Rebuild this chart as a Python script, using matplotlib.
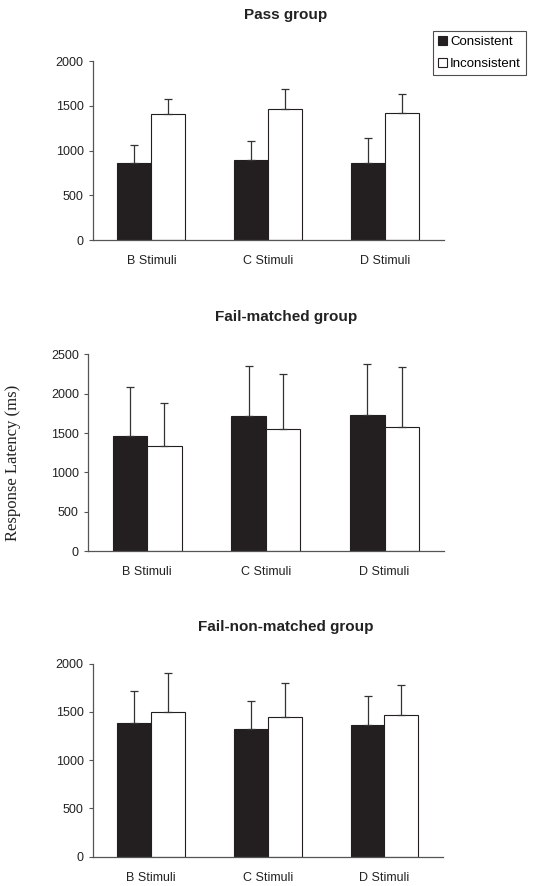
import matplotlib
matplotlib.use('Agg')
import matplotlib.pyplot as plt
import numpy as np

plt.rcParams['font.family'] = ['Liberation Sans', 'DejaVu Sans']

# Data
stimuli = ['B Stimuli', 'C Stimuli', 'D Stimuli']
series_names = ['Consistent', 'Inconsistent']

pass_cons = [865, 894, 865]
pass_cons_top = [1061, 1110, 1139]
pass_incons = [1410, 1469, 1417]
pass_incons_top = [1577, 1692, 1629]

fm_cons = [1462, 1720, 1729]
fm_cons_top = [2089, 2352, 2377]
fm_incons = [1339, 1555, 1581]
fm_incons_top = [1886, 2254, 2335]

fnm_cons = [1390, 1324, 1369]
fnm_cons_top = [1721, 1614, 1666]
fnm_incons = [1497, 1452, 1466]
fnm_incons_top = [1900, 1800, 1776]

titles = ['Pass group', 'Fail-matched group', 'Fail-non-matched group']
ymaxes = [2000, 2500, 2000]

fig = plt.figure(figsize=(5.46, 8.86), dpi=100)

# axes boxes: left, bottom, width, height
boxes = [[0.170, 0.729, 0.643, 0.202],
         [0.161, 0.378, 0.652, 0.222],
         [0.170, 0.033, 0.641, 0.218]]
title_y = [0.983, 0.642, 0.292]

panels = [(pass_cons, pass_cons_top, pass_incons, pass_incons_top),
          (fm_cons, fm_cons_top, fm_incons, fm_incons_top),
          (fnm_cons, fnm_cons_top, fnm_incons, fnm_incons_top)]

w = 0.29
x = np.arange(len(stimuli))
for i, (cons, cons_top, inc, inc_top) in enumerate(panels):
    ax = fig.add_axes(boxes[i])
    cons = np.array(cons)
    inc = np.array(inc)
    b1 = ax.bar(x - w / 2, cons, w, color='#231f20', edgecolor='#231f20', linewidth=0.8,
                yerr=[np.zeros(3), np.array(cons_top) - cons],
                error_kw=dict(ecolor='#333333', elinewidth=0.9, capsize=3, capthick=0.9),
                label=series_names[0], zorder=2)
    b2 = ax.bar(x + w / 2, inc, w, color='white', edgecolor='#231f20', linewidth=0.8,
                yerr=[np.zeros(3), np.array(inc_top) - inc],
                error_kw=dict(ecolor='#333333', elinewidth=0.9, capsize=3, capthick=0.9),
                label=series_names[1], zorder=2)
    ax.set_xlim(-0.5, 2.5)
    ax.set_ylim(0, ymaxes[i])
    ax.set_yticks(np.arange(0, ymaxes[i] + 1, 500))
    ax.set_xticks(x)
    ax.set_xticklabels(stimuli)
    ax.tick_params(axis='x', length=0, pad=11, labelsize=9, colors='#222222')
    ax.tick_params(axis='y', length=3, width=0.8, labelsize=9, colors='#555555',
                   labelcolor='#222222')
    for s in ['top', 'right']:
        ax.spines[s].set_visible(False)
    for s in ['left', 'bottom']:
        ax.spines[s].set_color('#555555')
        ax.spines[s].set_linewidth(0.9)
    fig.text(0.524, title_y[i], titles[i], ha='center', va='center',
             fontsize=11, fontweight='bold', color='#222222')
    if i == 0:
        leg = fig.legend(handles=[b1, b2], loc='upper left',
                         bbox_to_anchor=(0.793, 0.965), fontsize=9.5,
                         handlelength=0.7, handleheight=0.7, handletextpad=0.25,
                         borderpad=0.35, labelspacing=0.75, fancybox=False,
                         frameon=True, borderaxespad=0)
        leg.get_frame().set_edgecolor('#222222')
        leg.get_frame().set_linewidth(0.8)

fig.text(0.024, 0.478, 'Response Latency (ms)', rotation=90, ha='center', va='center',
         fontsize=12, family=['Liberation Serif', 'DejaVu Serif'], color='#222222')

fig.savefig('out.png', dpi=100)
